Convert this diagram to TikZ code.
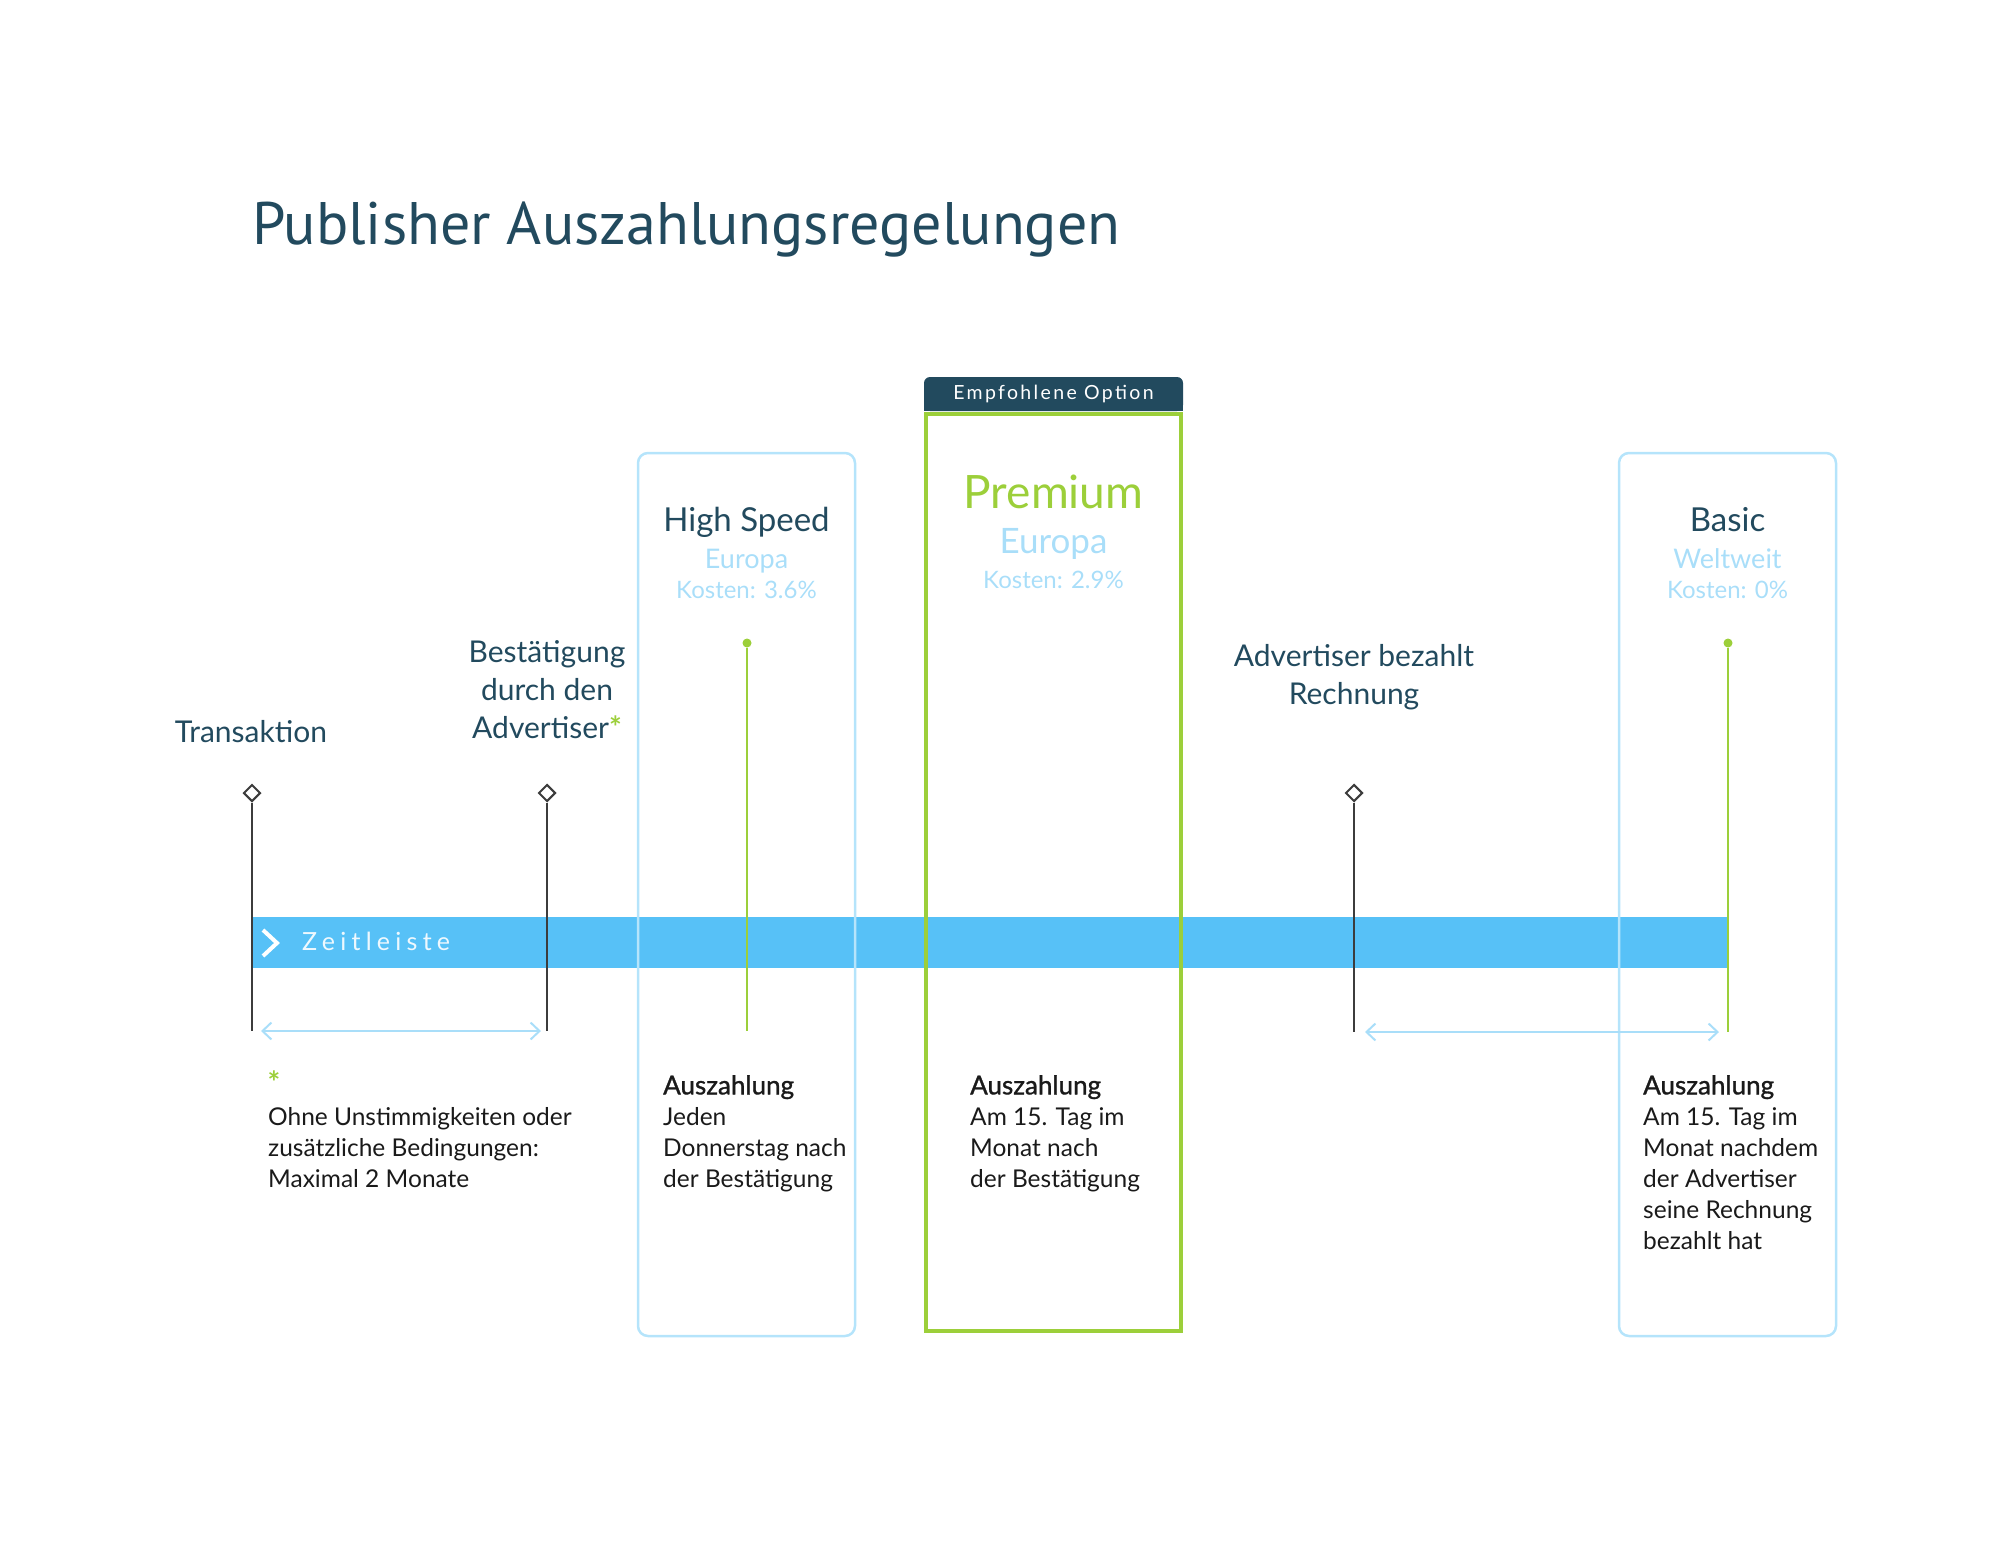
\documentclass[tikz,border=0pt]{standalone}
\usepackage{fontspec}
\setmainfont{Lato}
\newfontfamily\titlefont{PT Sans}
\newfontfamily\headfont[FakeBold=1.2]{Lato}
\newfontfamily\tabfont[LetterSpace=12]{Lato}
\newfontfamily\barfont[LetterSpace=21]{Lato}
\usetikzlibrary{shapes.geometric,arrows.meta}

\definecolor{navy}{HTML}{224A5E}
\definecolor{lgreen}{HTML}{9CCF3A}
\definecolor{lblue}{HTML}{A9DEF9}
\definecolor{boxblue}{HTML}{B5E4FB}
\definecolor{barblue}{HTML}{57C1F7}
\definecolor{markgray}{HTML}{3C3C3C}
\definecolor{bodytext}{HTML}{1A1A1A}

\begin{document}
\begin{tikzpicture}[
  x=1pt, y=-1pt,
  steplabel/.style={text=navy, font=\fontsize{30}{38}\selectfont, align=center, inner sep=0},
  plan/.style={draw=boxblue, line width=2.5pt, rounded corners=10pt, minimum width=217pt, minimum height=883pt, inner sep=0},
  planname/.style={text=navy, font=\fontsize{33}{40}\selectfont, anchor=base, inner sep=0},
  region/.style={text=lblue, font=\fontsize{27}{32}\selectfont, anchor=base, inner sep=0},
  cost/.style={text=lblue, font=\fontsize{24}{30}\selectfont, anchor=base, inner sep=0},
  payout/.style={text=bodytext, font=\fontsize{24.5}{31}\selectfont, align=left, anchor=north west, inner sep=0},
  marker/.style={diamond, draw=markgray, fill=white, line width=2pt, minimum size=17pt, inner sep=0},
  dot/.style={circle, fill=lgreen, minimum size=9pt, inner sep=0},
  tick/.style={draw=markgray, line width=2pt},
  gtick/.style={draw=lgreen, line width=2pt},
  span/.style={draw=lblue, line width=2pt, {Straight Barb[length=9pt,width=17pt]}-{Straight Barb[length=9pt,width=17pt]}}
]
\useasboundingbox (0,0) rectangle (2013,1562);

% title
\node[text=navy, font=\titlefont\fontsize{60}{70}\selectfont, anchor=base west, inner sep=0] (title) at (252,245) {Publisher Auszahlungsregelungen};

% timeline bar
\fill[barblue] (252,917) rectangle (1728,968);
\draw[white, line width=4pt] (263,930) -- (277,943) -- (263,956);
\node[text=white, opacity=0.9, font=\barfont\fontsize{25}{30}\selectfont, anchor=base west, inner sep=0] (bar) at (302,950) {Zeitleiste};

% plan boxes
\node[plan] (boxHigh)  at (746.5,894.5) {};
\node[plan] (boxBasic) at (1727.5,894.5) {};
\fill[navy] (924,394) rectangle (1183,411);
\node[fill=navy, rounded corners=6pt, minimum width=259pt, minimum height=34pt, inner sep=0,
      text=white, font=\tabfont\fontsize{19.5}{24}\selectfont] (tab) at (1053.5,394) {Empfohlene Option};
\node[draw=lgreen, line width=4.5pt, minimum width=255pt, minimum height=917pt, inner sep=0] (boxPremium) at (1053.5,872.5) {};

% plan headers
\node[planname] (hsName)   at (746.5,531) {High Speed};
\node[region]   (hsRegion) at (746.5,568) {Europa};
\node[cost]     (hsCost)   at (746.5,598) {Kosten: 3.6\%};
\node[text=lgreen, font=\fontsize{46}{52}\selectfont, anchor=base, inner sep=0] (prName) at (1053.5,508) {Premium};
\node[text=lblue, font=\fontsize{35}{40}\selectfont, anchor=base, inner sep=0] (prRegion) at (1053.5,553) {Europa};
\node[cost]     (prCost)   at (1053.5,588) {Kosten: 2.9\%};
\node[planname] (baName)   at (1727.5,531) {Basic};
\node[region]   (baRegion) at (1727.5,568) {Weltweit};
\node[cost]     (baCost)   at (1727.5,598) {Kosten: 0\%};

% events
\node[steplabel, anchor=base] (lTrans) at (251,742) {Transaktion};
\node[steplabel, anchor=north] (lBest) at (547,640) {Best\"atigung\\durch den\\Advertiser\textcolor{lgreen}{\bfseries*}};
\node[steplabel, anchor=north] (lAdv) at (1354,644) {Advertiser bezahlt\\Rechnung};

\node[marker] (mTrans) at (252,793) {};
\node[marker] (mBest)  at (547,793) {};
\node[marker] (mAdv)   at (1354,793) {};
\node[dot] (dHigh)  at (747,643) {};
\node[dot] (dBasic) at (1728,643) {};

\coordinate (eTrans) at (252,1031);
\coordinate (eBest)  at (547,1031);
\coordinate (eAdv)   at (1354,1032);
\coordinate (eHigh)  at (747,1031);
\coordinate (eBasic) at (1728,1032);

\draw[tick] (mTrans.south) -- (eTrans);
\draw[tick] (mBest.south) -- (eBest);
\draw[tick] (mAdv.south) -- (eAdv);
\draw[gtick] (dHigh) -- (eHigh);
\draw[gtick] (dBasic) -- (eBasic);

\draw[span] ([xshift=9pt]eTrans) -- ([xshift=-6pt]eBest);
\draw[span] ([xshift=11pt]eAdv) -- ([xshift=-9pt]eBasic);

% notes
\node[text=lgreen, font=\fontsize{30}{34}\selectfont\bfseries, inner sep=0] (star) at (274,1082) {*};
\node[payout] (note) at (268,1107) {Ohne Unstimmigkeiten oder\\zus\"atzliche Bedingungen:\\Maximal 2 Monate};
\node[payout] (pHigh) at (663,1075) {{\headfont\fontsize{26}{31}\selectfont Auszahlung}\\Jeden\\Donnerstag nach\\der Best\"atigung};
\node[payout] (pPremium) at (970,1075) {{\headfont\fontsize{26}{31}\selectfont Auszahlung}\\Am 15. Tag im\\Monat nach\\der Best\"atigung};
\node[payout] (pBasic) at (1643,1075) {{\headfont\fontsize{26}{31}\selectfont Auszahlung}\\Am 15. Tag im\\Monat nachdem\\der Advertiser\\seine Rechnung\\bezahlt hat};
\end{tikzpicture}
\end{document}
